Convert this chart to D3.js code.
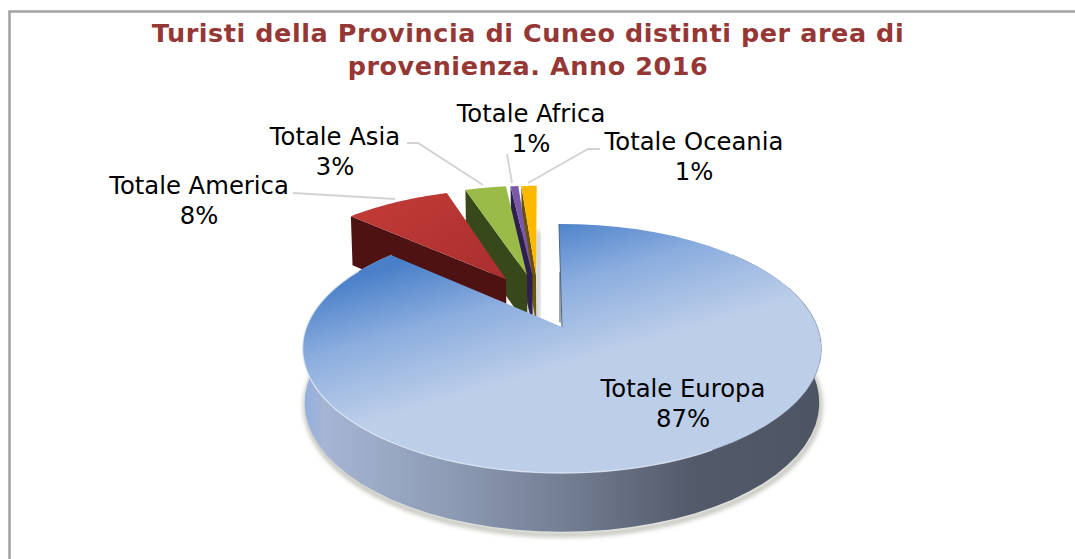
<!DOCTYPE html>
<html><head><meta charset="utf-8">
<script src="https://cdn.jsdelivr.net/npm/d3@7"></script>
<style>html,body{margin:0;padding:0;background:#fff}svg{display:block}text{font-family:"DejaVu Sans",sans-serif}</style>
</head><body><div id="chart"></div>
<script>
const titleLines = ["Turisti della Provincia di Cuneo distinti per area di", "provenienza. Anno 2016"];
const categories = ["Totale Europa", "Totale America", "Totale Asia", "Totale Africa", "Totale Oceania"];
const shares = [86.8, 8.2, 3.2, 0.6, 1.2];
const topColors = ["url(#gEuropa)", "url(#gAmerica)", "#9abb48", "#7a58a8", "#fdb900"];
const sideColors = ["#4d5462", "#4f1212", "#37491a", "#2d2050", "#6b5200"];
const explodeU = [0, -0.235, -0.148, -0.125, -0.11];
const explodeV = [0, -0.425, -0.465, -0.465, -0.465];
const labelX = [683, 199, 335, 531, 694];
const labelY = [397, 194, 145, 122, 150];
const leaders = [null, [[293,193],[395,199]], [[407,143],[418,143],[483,185]], [[507,154],[512,183]], [[600,149],[588,149],[528,183]]];

const W = 1075, H = 559;
const cx = 562, cy = 327, sx = 255.5, sy = 120.8, p = 0.1726;
const svg = d3.select("#chart").append("svg").attr("width", W).attr("height", H);
const defs = svg.append("defs");
function lin(id, x1, y1, x2, y2, stops) {
  const g = defs.append("linearGradient").attr("id", id).attr("gradientUnits", "userSpaceOnUse")
    .attr("x1", x1).attr("y1", y1).attr("x2", x2).attr("y2", y2);
  stops.forEach(s => g.append("stop").attr("offset", s[0]).attr("stop-color", s[1]));
}
lin("gEuropa", 482, 240, 522, 378, [[0, "#4a80c9"], [0.45, "#8badde"], [1, "#bdcee9"]]);
lin("gAmerica", 400, 190, 460, 280, [[0, "#c03a36"], [1, "#ad3030"]]);
lin("gRim", 303, 0, 822, 0, [[0, "#8fb0e2"], [0.04, "#a6b5d3"], [0.3, "#8b99b2"], [0.55, "#6e788c"], [0.75, "#535a6a"], [1, "#4d5462"]]);
const blur = defs.append("filter").attr("id", "blur").attr("x", "-10%").attr("y", "-10%").attr("width", "120%").attr("height", "120%");
blur.append("feGaussianBlur").attr("stdDeviation", 2.5);

// frame
svg.append("path").attr("d", "M9.5 559V11.5H1075").attr("fill", "none").attr("stroke", "#a3a3a3").attr("stroke-width", 2.6);

// title
const title = svg.append("text").attr("text-anchor", "middle").attr("fill", "#953735")
  .attr("font-weight", "bold").attr("font-size", 25.5).attr("letter-spacing", 0.55);
titleLines.forEach((t, i) => title.append("tspan").attr("x", 528).attr("y", 42 + i * 33).text(t));

// perspective projection of the pie plane
function project(u, v, z) {
  const w = 1 - p * v;
  const d = z ? 53.5 / Math.sqrt(w) : 0;
  const k = z ? 0.992 : 1;
  return [cx + k * sx * u / w, cy + sy * v / w + d];
}
const pie = d3.pie().sort(null).value(d => d)
  .startAngle(-0.8 * Math.PI / 180).endAngle((360 - 0.8) * Math.PI / 180);
const slices = pie(shares);
const line = d3.line();
function arcPts(a0, a1, ou, ov, z) {
  return d3.range(0, 61).map(i => {
    const a = a0 + (a1 - a0) * i / 60;
    return project(ou + Math.sin(a), ov - Math.cos(a), z);
  });
}
const deg = Math.PI / 180;
const g = svg.append("g");

// exploded slices, back-right to front-left
[4, 3, 2, 1].forEach(i => {
  const s = slices[i], ou = explodeU[i], ov = explodeV[i];
  const apexT = project(ou, ov, false), apexB = project(ou, ov, true);
  const a = s.startAngle, b = s.endAngle;
  const cornerT = project(ou + Math.sin(a), ov - Math.cos(a), false);
  const cornerB = project(ou + Math.sin(a), ov - Math.cos(a), true);
  const endT = project(ou + Math.sin(b), ov - Math.cos(b), false);
  const endB = project(ou + Math.sin(b), ov - Math.cos(b), true);
  // soft shadow on the right of the slice
  g.append("path").attr("d", line([[endT[0], endT[1] + 42], [endB[0] + 3, endB[1]], [apexB[0] + 3, apexB[1]], [apexB[0], apexB[1]]]) + "Z")
    .attr("fill", "#8f8f8f").attr("opacity", 0.75).attr("filter", "url(#blur)");
  g.append("path").attr("d", line([cornerT, apexT, apexB, cornerB]) + "Z").attr("fill", sideColors[i]);
  g.append("path").attr("d", line([apexT, ...arcPts(a, b, ou, ov, false)]) + "Z").attr("fill", topColors[i]);
});

// Europa
const eu = slices[0];
const rimTop = arcPts(48 * deg, 312 * deg, 0, 0, false);
const rimBot = arcPts(48 * deg, 312 * deg, 0, 0, true);
g.append("path").attr("d", line([...rimBot.map(q => [q[0] + 1, q[1] + 3])]))
  .attr("fill", "none").attr("stroke", "#9a9a8e").attr("stroke-width", 3).attr("filter", "url(#blur)");
// gap shadow
const apex = project(0, 0, false);
g.append("path").attr("d", line([[apex[0] - 3, apex[1] - 55], [apex[0] - 1, apex[1] - 55], [apex[0] - 1, apex[1] - 4], [apex[0] - 3, apex[1] - 5]]) + "Z")
  .attr("fill", "#a5a5a5");
g.append("path").attr("d", line([...rimTop, ...rimBot.slice().reverse()]) + "Z").attr("fill", "url(#gRim)");
const topPts = arcPts(eu.startAngle, eu.endAngle, 0, 0, false);
g.append("path").attr("d", line([apex, ...topPts]) + "Z").attr("fill", topColors[0]);
g.append("path").attr("d", line([apex, project(Math.sin(eu.startAngle), -Math.cos(eu.startAngle), false)]))
  .attr("stroke", "#4a6488").attr("stroke-width", 1).attr("fill", "none");
// bevel highlight / shade on the front edge
g.append("path").attr("d", line(arcPts(150 * deg, 300 * deg, 0, 0, false)))
  .attr("fill", "none").attr("stroke", "#dfe9f8").attr("stroke-width", 1.3).attr("opacity", 0.8);
g.append("path").attr("d", line(arcPts(70 * deg, 150 * deg, 0, 0, false)))
  .attr("fill", "none").attr("stroke", "#7f8ba3").attr("stroke-width", 1).attr("opacity", 0.45);

// leaders
leaders.forEach(l => { if (l) svg.append("path").attr("d", line(l)).attr("fill", "none").attr("stroke", "#d2d2d2").attr("stroke-width", 1.8); });

// labels
categories.forEach((c, i) => {
  const t = svg.append("text").attr("text-anchor", "middle").attr("fill", "#000").attr("font-size", 24.3);
  t.append("tspan").attr("x", labelX[i]).attr("y", labelY[i]).text(c);
  t.append("tspan").attr("x", labelX[i]).attr("y", labelY[i] + 30).text(Math.round(shares[i]) + "%");
});
</script></body></html>
